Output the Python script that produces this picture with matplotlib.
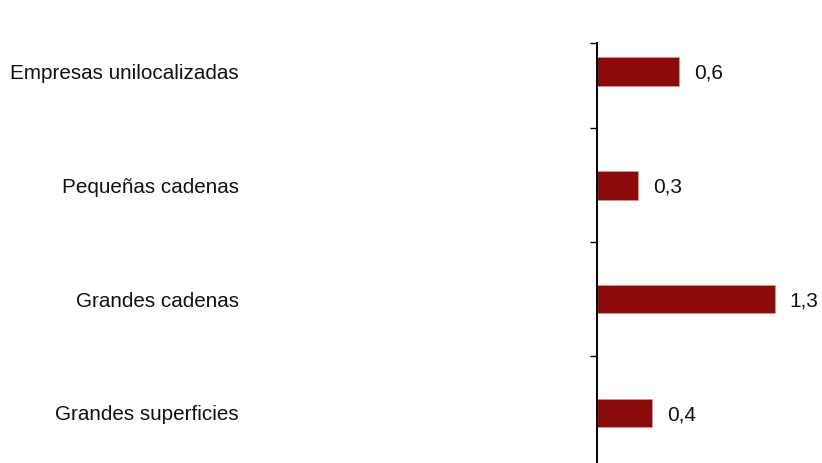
import matplotlib.pyplot as plt

categories = ["Grandes superficies", "Grandes cadenas", "Pequeñas cadenas", "Empresas unilocalizadas"]
values = [0.4, 1.3, 0.3, 0.6]
value_labels = ["0,4", "1,3", "0,3", "0,6"]

plt.rcParams['font.family'] = ['Liberation Sans', 'DejaVu Sans']

fig = plt.figure(figsize=(8.22, 4.63), dpi=100)
# axes: left spine at x=597px, top at y=43px, bottom at image edge
ax = fig.add_axes([597 / 822, 0, 225 / 822, (463 - 43) / 463])

pos = list(range(len(categories)))
ax.barh(pos, values, height=0.25, color='#8B0A0A', edgecolor='#d9a0a0', linewidth=0.4)

for p, v, lab in zip(pos, values, value_labels):
    ax.text(v + 0.11, p, lab, va='center_baseline', ha='left', fontsize=15, color='#111111')

ax.set_xlim(0, 225 / 136.7)
ax.set_ylim(-0.44, 3.25)

ax.set_yticks(pos)
ax.set_yticklabels(categories, fontsize=14.85, color='#111111')
ax.tick_params(axis='y', which='major', length=0, pad=258)
ax.set_yticks([0.5, 1.5, 2.5, 3.25], minor=True)
ax.tick_params(axis='y', which='minor', length=5, width=1, color='black')
ax.set_xticks([])

for s in ['top', 'right', 'bottom']:
    ax.spines[s].set_visible(False)
ax.spines['left'].set_linewidth(1.4)

fig.savefig('out.png', dpi=100)
